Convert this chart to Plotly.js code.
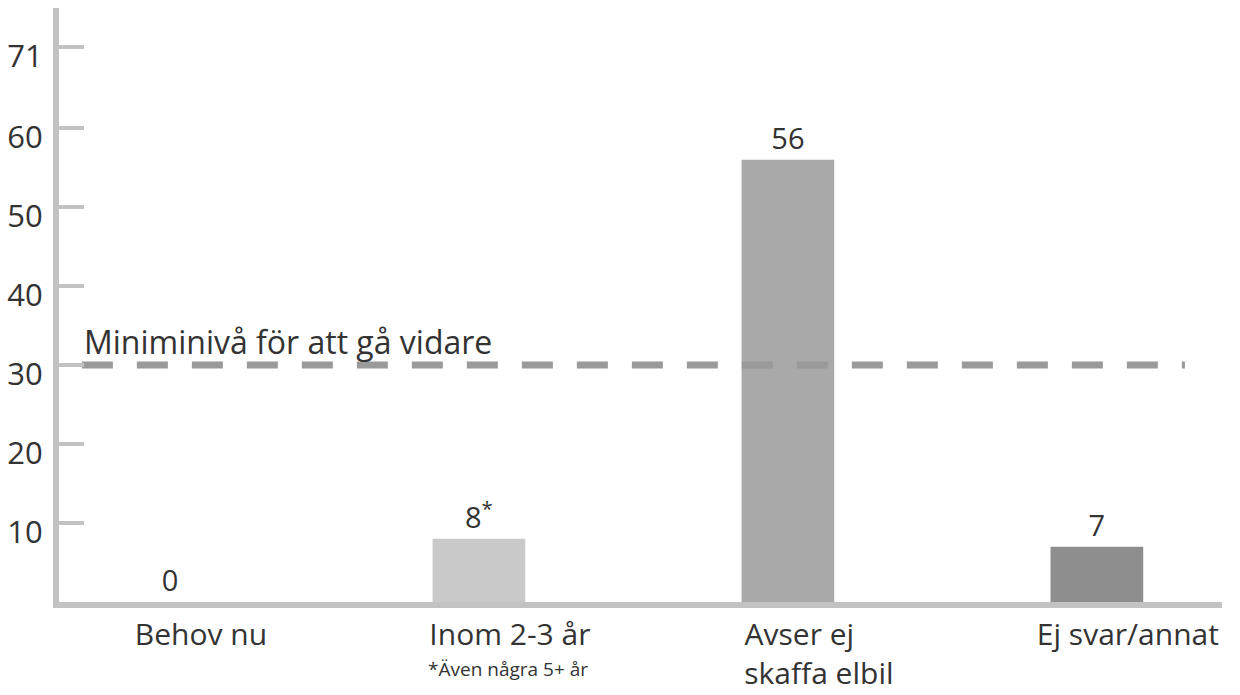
<!DOCTYPE html>
<html><head><meta charset="utf-8">
<script src="https://cdn.plot.ly/plotly-3.0.1.min.js"></script>
<style>body{margin:0;background:#fff}#c{width:1240px;height:695px}</style>
</head><body><div id="c"></div>
<script>
const categories = ["Behov nu", "Inom 2-3 år", "Avser ej skaffa elbil", "Ej svar/annat"];
const tickLabels = ["Behov nu", "Inom 2-3 år", "Avser ej&nbsp;&nbsp;&nbsp;&nbsp;&nbsp;<br>skaffa elbil", "Ej svar/annat"];
const footnote = "*Även några 5+ år";
const values = [0, 8, 56, 7];
const valueLabels = ["0", "8<sup>*</sup>", "56", "7"];
const barColors = ["#c9c9c9", "#c9c9c9", "#a9a9a9", "#8e8e8e"];
const thresholdValue = 30;
const thresholdLabel = "Miniminivå för att gå vidare";
const yTickVals = [10, 20, 30, 40, 50, 60, 70.2];
const yTickText = ["10", "20", "30", "40", "50", "60", "71"];

const xPos = categories.map((c, i) => i);
const font = "'Open Sans', 'Noto Sans', sans-serif";
const FS = 31;

const traces = [
  {
    type: "bar", x: xPos, y: values, width: 0.3,
    marker: {color: barColors, line: {width: 0}},
    text: valueLabels, textposition: "outside", cliponaxis: false,
    textfont: {size: FS - 2, color: "#333", family: font},
    hoverinfo: "skip"
  },
  {
    type: "scatter", mode: "lines", x: [-0.285, 3.285], y: [thresholdValue, thresholdValue],
    line: {color: "#9a9a9a", width: 7, dash: "31px,24px"}, hoverinfo: "skip"
  }
];

const layout = {
  width: 1240, height: 695,
  margin: {l: 59, r: 18, t: 8, b: 93},
  paper_bgcolor: "#fff", plot_bgcolor: "#fff",
  showlegend: false,
  font: {family: font, color: "#333"},
  xaxis: {
    range: [-0.359, 3.405], tickvals: xPos, ticktext: tickLabels,
    showgrid: false, zeroline: false, showline: true, linecolor: "#c2c2c2", linewidth: 6,
    ticks: "", ticklabelstandoff: 1, ticklabelshift: 31,
    tickfont: {size: 30, color: "#333", family: font}, fixedrange: true
  },
  yaxis: {
    range: [0, 75.2], tickvals: yTickVals, ticktext: yTickText,
    showgrid: false, zeroline: false, showline: true, linecolor: "#c2c2c2", linewidth: 6,
    ticks: "inside", ticklen: 25, tickwidth: 4, tickcolor: "#c2c2c2",
    tickfont: {size: FS, color: "#333", family: font}, ticklabelstandoff: 4, ticklabelshift: 9,
    fixedrange: true
  },
  annotations: [
    {
      x: -0.285, y: thresholdValue, xref: "x", yref: "y", xanchor: "left", yanchor: "bottom",
      yshift: 0, text: thresholdLabel, showarrow: false,
      font: {size: 32, color: "#333", family: font}
    },
    {
      x: 1, y: 0, xref: "x", yref: "paper", xanchor: "center", yanchor: "middle",
      xshift: 29, yshift: -67, text: footnote, showarrow: false,
      font: {size: 19, color: "#333", family: font}
    }
  ]
};
Plotly.newPlot("c", traces, layout, {displayModeBar: false, staticPlot: true});
</script></body></html>
